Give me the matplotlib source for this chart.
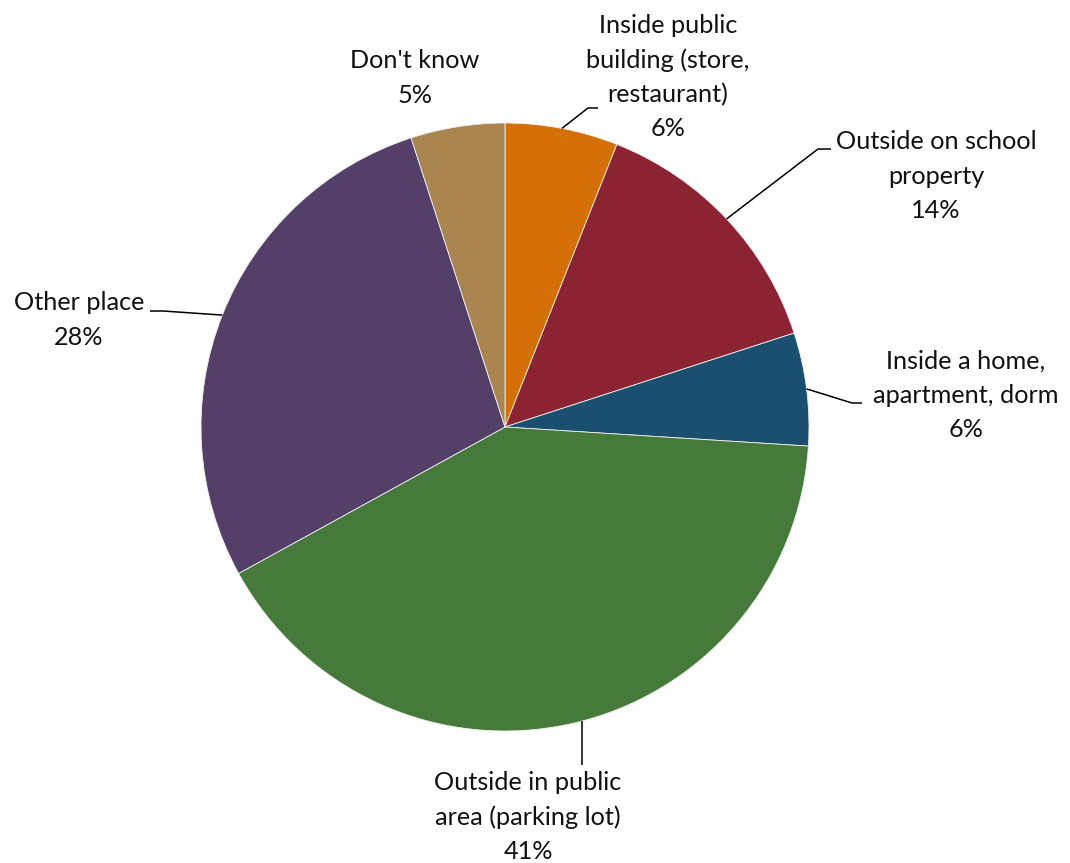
import numpy as np
import matplotlib
matplotlib.use("Agg")
import matplotlib.pyplot as plt

# Where incidents took place (share of responses, %)
categories = [
    "Inside public\nbuilding (store,\nrestaurant)",
    "Outside on school\nproperty",
    "Inside a home,\napartment, dorm",
    "Outside in public\narea (parking lot)",
    "Other place",
    "Don't know",
]
shares = [6, 14, 6, 41, 28, 5]
colors = ["#D57008", "#8C2332", "#1B4F6F", "#467A3B", "#543F69", "#AA854F"]

W, H = 1070, 863
CX, CY, R = 505, 427, 304

fig = plt.figure(figsize=(W / 100, H / 100), dpi=100)
ax = fig.add_axes([0, 0, 1, 1])


def px(x, y):
    """Pixel position -> data position (pie radius = 1)."""
    return (x - CX) / R, (CY - y) / R


wedges, _ = ax.pie(shares, colors=colors, startangle=90, counterclock=False,
                   radius=1, center=(0, 0), frame=True,
                   wedgeprops=dict(edgecolor="#f0f0f0", linewidth=0.6))
ax.set_xlim(-CX / R, (W - CX) / R)
ax.set_ylim((CY - H) / R, CY / R)
ax.set_aspect("auto")
ax.axis("off")

FONT = "Lato"
FS = 18.2

# label centres and leader elbows, in pixels
label_pos = [(668, 77), (936, 176), (966, 395), (528, 817), (79, 320), (415, 78)]
elbows = [
    [(588, 108), (598, 108)],
    [(818, 149), (831, 149)],
    [(852, 403), (862, 403)],
    [(582, 765)],
    [(163, 311), (150, 311)],
    None,
]

for i, (w, cat, val, (lx, ly), elb) in enumerate(
        zip(wedges, categories, shares, label_pos, elbows)):
    tx, ty = px(lx, ly)
    ax.text(tx, ty, f"{cat}\n{val}%", ha="center", va="center",
            fontsize=FS, family=FONT, color="#111111", linespacing=1.58)
    if elb is None:
        continue
    if len(elb) == 1:
        # straight vertical drop from the rim
        ex, ey = px(*elb[0])
        xs = [ex, ex]
        ys = [-np.sqrt(1 - ex ** 2), ey]
    else:
        mid = np.deg2rad((w.theta1 + w.theta2) / 2)
        xs = [np.cos(mid)]
        ys = [np.sin(mid)]
        for (ex, ey) in elb:
            dx, dy = px(ex, ey)
            xs.append(dx)
            ys.append(dy)
    ax.plot(xs, ys, color="black", linewidth=1.1, solid_capstyle="butt")

fig.savefig("out.png", dpi=100)
